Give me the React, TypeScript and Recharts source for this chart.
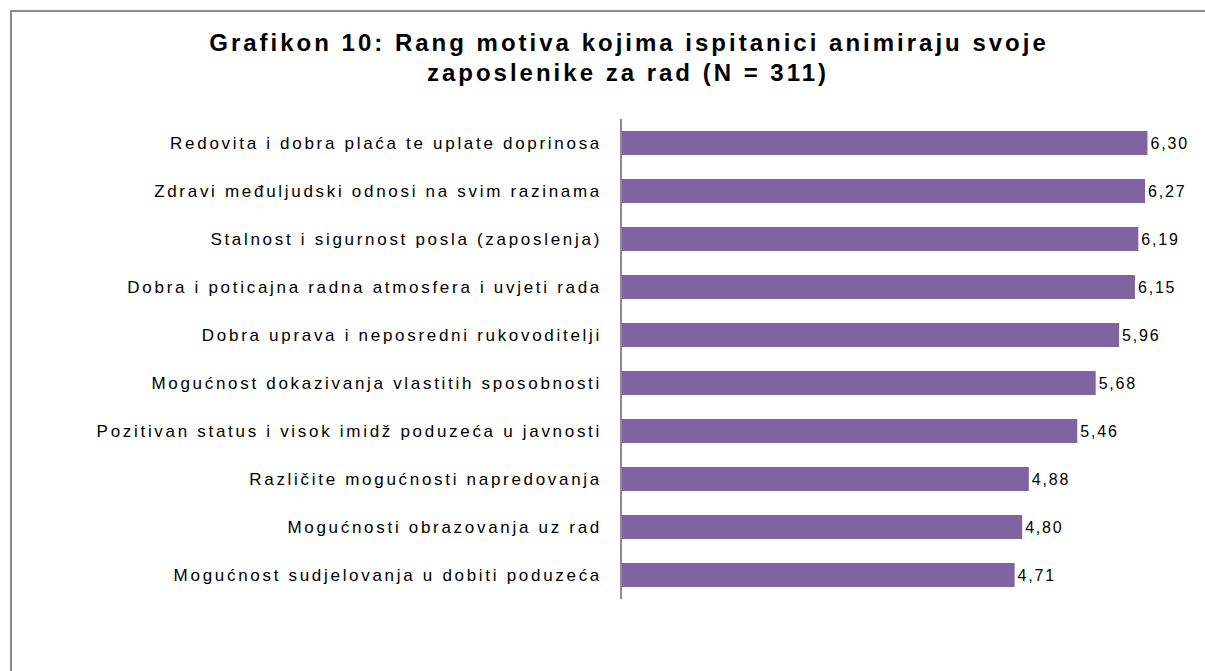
import React from "react";
import { BarChart, Bar, XAxis, YAxis, LabelList } from "recharts";

const categories = [
  "Redovita i dobra plaća te uplate doprinosa",
  "Zdravi međuljudski odnosi na svim razinama",
  "Stalnost i sigurnost posla (zaposlenja)",
  "Dobra i poticajna radna atmosfera i uvjeti rada",
  "Dobra uprava i neposredni rukovoditelji",
  "Mogućnost dokazivanja vlastitih sposobnosti",
  "Pozitivan status i visok imidž poduzeća u javnosti",
  "Različite mogućnosti napredovanja",
  "Mogućnosti obrazovanja uz rad",
  "Mogućnost sudjelovanja u dobiti poduzeća",
];
const values = [6.3, 6.27, 6.19, 6.15, 5.96, 5.68, 5.46, 4.88, 4.8, 4.71];
const titleLines = [
  "Grafikon 10: Rang motiva kojima ispitanici animiraju svoje",
  "zaposlenike za rad (N = 311)",
];

const data = categories.map((c, i) => ({ name: c, value: values[i] }));

const FONT = "'Liberation Sans', Arial, sans-serif";

const CatTick = (props: any) => {
  const { y, payload } = props;
  return (
    <text
      x={602}
      y={y}
      dy={6}
      textAnchor="end"
      fontFamily={FONT}
      fontSize={17}
      letterSpacing={2.7}
      fill="#000"
    >
      {payload.value}
    </text>
  );
};

export default function App() {
  return (
    <div
      style={{
        position: "absolute",
        left: 0,
        top: 0,
        width: 1205,
        height: 671,
        overflow: "hidden",
        background: "#fff",
      }}
    >
      <div
        style={{
          position: "absolute",
          left: 10,
          top: 10,
          width: 1300,
          height: 800,
          border: "2px solid #8c8c8c",
        }}
      />
      <div style={{ position: "absolute", left: 0, top: 0 }}>
        <BarChart
          width={1212}
          height={671}
          layout="vertical"
          data={data}
          margin={{ top: 119, right: 6, bottom: 72, left: 0 }}
          barCategoryGap={0}
        >
          <text
            x={629}
            y={51}
            textAnchor="middle"
            fontFamily={FONT}
            fontWeight="bold"
            fontSize={24}
            letterSpacing={3}
            fill="#000"
          >
            {titleLines[0]}
          </text>
          <text
            x={628}
            y={81}
            textAnchor="middle"
            fontFamily={FONT}
            fontWeight="bold"
            fontSize={24}
            letterSpacing={3}
            fill="#000"
          >
            {titleLines[1]}
          </text>
          <XAxis type="number" domain={[0, 7]} hide />
          <YAxis
            type="category"
            dataKey="name"
            width={621}
            axisLine={{ stroke: "#8c8c8c", strokeWidth: 2 }}
            tickLine={false}
            tick={<CatTick />}
            interval={0}
          />
          <Bar
            dataKey="value"
            fill="#8064A2"
            barSize={24}
            isAnimationActive={false}
          >
            <LabelList
              dataKey="value"
              position="right"
              offset={3}
              formatter={(v: any) => Number(v).toFixed(2).replace(".", ",")}
              style={{ fontFamily: FONT, fontSize: 16, letterSpacing: 1.8, fill: "#000" }}
            />
          </Bar>
        </BarChart>
      </div>
    </div>
  );
}
